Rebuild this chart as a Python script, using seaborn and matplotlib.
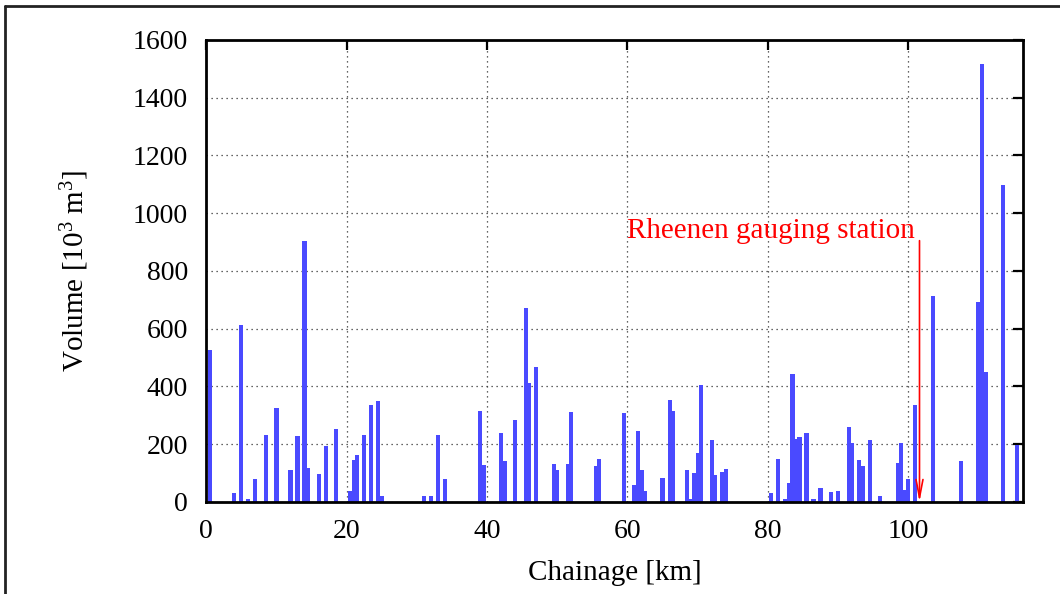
import matplotlib
matplotlib.use("Agg")
import matplotlib.pyplot as plt
import seaborn as sns
import pandas as pd
from matplotlib.lines import Line2D

# ---- data ----
chainage_km = [0.5, 4.0, 5.0, 6.0, 7.0, 8.5, 10.0, 12.0, 13.0, 14.0, 14.5, 16.0, 17.0, 18.5,
               20.5, 21.0, 21.5, 22.5, 23.5, 24.5, 25.0, 31.0, 32.0, 33.0, 34.0, 39.0, 39.5,
               42.0, 42.5, 44.0, 45.5, 46.0, 47.0, 49.5, 50.0, 51.5, 52.0, 55.5, 56.0, 59.5,
               61.0, 61.5, 62.0, 62.5, 65.0, 66.0, 66.5, 68.5, 69.0, 69.5, 70.0, 70.5, 72.0,
               72.5, 73.5, 74.0,
               80.5, 81.5, 82.5, 83.0, 83.5, 84.0, 84.5, 85.5, 86.5, 87.5, 89.0, 90.0, 91.5,
               92.0, 93.0, 93.5, 94.5, 96.0, 98.5, 99.0, 99.5, 100.0, 101.0, 103.5, 107.5,
               110.0, 110.5, 111.0, 113.5, 115.5]
volume = [526, 31, 613, 12, 81, 233, 326, 112, 229, 904, 118, 98, 194, 253,
          38, 147, 163, 233, 336, 350, 21, 21, 21, 233, 81, 315, 128,
          239, 142, 284, 672, 412, 468, 132, 111, 132, 312, 125, 149, 308,
          59, 246, 111, 38, 83, 353, 315, 111, 10, 100, 170, 405, 215,
          94, 104, 114,
          31, 149, 10, 66, 443, 218, 225, 239, 10, 48, 35, 38, 260,
          204, 145, 125, 215, 21, 135, 204, 42, 80, 336, 713, 142,
          693, 1517, 450, 1098, 197]
x_ticks = [0, 20, 40, 60, 80, 100]
y_ticks = [0, 200, 400, 600, 800, 1000, 1200, 1400, 1600]
x_label = "Chainage [km]"
y_label = "Volume [10$^3$ m$^3$]"
station_label = "Rheenen gauging station"
station_km = 101.6

# ---- style ----
sns.set_theme(style="white")
plt.rcParams["font.family"] = ["Liberation Serif", "DejaVu Serif"]
plt.rcParams["mathtext.default"] = "regular"

df = pd.DataFrame({"km": chainage_km, "vol": volume})

fig = plt.figure(figsize=(10.6, 5.94), dpi=100)
ax = fig.add_axes([0.1946, 0.1549, 0.7702, 0.7778])

sns.barplot(data=df, x="km", y="vol", native_scale=True, width=1.18,
            color="#4a4aff", saturation=1, errorbar=None, linewidth=0, ax=ax)

ax.set_xlim(0, 116.3)
ax.set_ylim(0, 1600)
ax.set_xticks(x_ticks)
ax.set_yticks(y_ticks)
ax.set_axisbelow(True)
ax.grid(True, linestyle=(0, (1, 3)), color="#333333", linewidth=0.9)

for s in ax.spines.values():
    s.set_visible(True)
    s.set_linewidth(2)
    s.set_color("black")

ax.tick_params(axis="both", direction="in", length=7, width=1.6, top=True, right=True,
               labelsize=20, colors="black")
ax.tick_params(axis="x", pad=12)
ax.tick_params(axis="y", pad=13)

ax.set_xlabel(x_label, fontsize=21, color="black")
ax.set_ylabel(y_label, fontsize=21, color="black")
ax.xaxis.set_label_coords(0.5, -0.125)
ax.yaxis.set_label_coords(-0.141, 0.5)

ax.text(60, 914, station_label, color="red", fontsize=21, ha="left", va="baseline")
ax.annotate("", xy=(station_km, 0), xytext=(station_km, 905),
            arrowprops=dict(arrowstyle="->,head_length=1.3,head_width=0.25", color="red",
                            lw=1.2, shrinkA=0, shrinkB=0, mutation_scale=10))

# page frame (top and left edges)
fig.add_artist(Line2D([4.5 / 1060, 1.0], [1 - 5.5 / 594, 1 - 5.5 / 594],
                      transform=fig.transFigure, color="#222222", lw=2))
fig.add_artist(Line2D([4.5 / 1060, 4.5 / 1060], [0.0, 1 - 5.5 / 594],
                      transform=fig.transFigure, color="#222222", lw=2))

fig.savefig("out.png", dpi=100)
